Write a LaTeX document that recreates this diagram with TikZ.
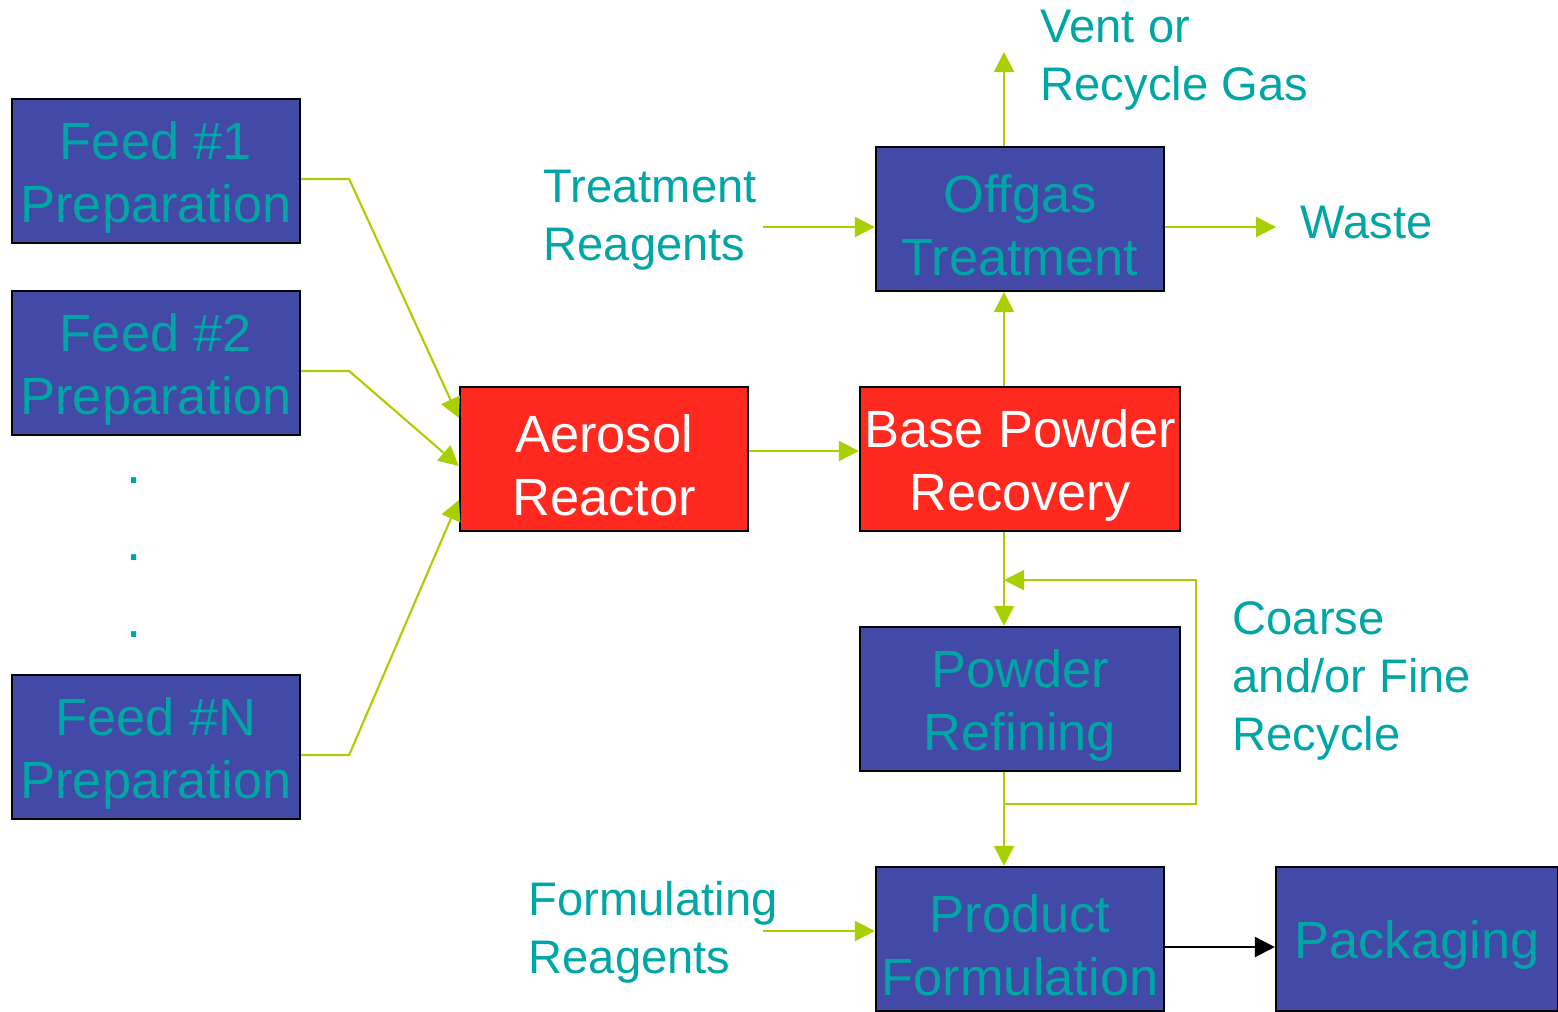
\documentclass[tikz,border=0pt]{standalone}
\usepackage{fontspec}
\setmainfont{Liberation Sans}
\usetikzlibrary{calc,arrows.meta}
\definecolor{boxblue}{RGB}{67,73,167}
\definecolor{boxred}{RGB}{255,41,31}
\definecolor{tealtext}{RGB}{0,166,166}
\definecolor{flowgreen}{RGB}{168,208,0}
\newcommand{\lift}{\rule{0pt}{0.5cm}}

\begin{document}
\begin{tikzpicture}[x=0.01cm, y=-0.01cm,
  box/.style={draw=black, line width=0.6pt, fill=boxblue, text=tealtext, minimum width=2.88cm, minimum height=1.44cm, inner sep=0pt, align=center, font=\fontsize{14.9}{17.9}\selectfont},
  hot/.style={box, fill=boxred, text=white},
  lbl/.style={text=tealtext, anchor=west, inner sep=0pt, align=left, font=\fontsize{13.4}{16.4}\selectfont},
  flow/.style={draw=flowgreen, line width=0.6pt, -{Triangle[length=0.2cm,width=0.2cm]}}]
\useasboundingbox (0,0) rectangle (1558,1011);
% feed boxes
\node[box] (feed1) at (156,171) {\lift Feed \#1\\Preparation};
\node[box] (feed2) at (156,363) {\lift Feed \#2\\Preparation};
\node[box] (feedN) at (156,747) {\lift Feed \#N\\Preparation};
\foreach \y [count=\i] in {479,556,633} {
    \node[text=tealtext, font=\fontsize{15.5}{18}\selectfont, inner sep=0pt, anchor=base] (dot\i) at (134,\y+4) {.};
}
% main line
\node[hot] (reactor) at (604,459) {\lift Aerosol\\Reactor};
\node[hot, minimum width=3.2cm] (recovery) at (1020,459) {\lift Base Powder\\Recovery};
\node[box] (offgas) at (1020,219) {\lift Offgas\\Treatment};
\node[box, minimum width=3.2cm] (refining) at (1020,699) {\lift Powder\\Refining};
\node[box] (formulation) at (1020,939) {\lift Product\\Formulation};
\node[box, minimum width=2.82cm] (packaging) at (1417,939) {\lift Packaging};
% side labels
\node[lbl] (vent) at (1040,60) {Vent or\\Recycle Gas};
\node[lbl] (treat) at (543,220) {Treatment\\Reagents};
\node[lbl] (waste) at (1300,223) {Waste};
\node[lbl] (coarse) at (1232,681) {Coarse\\and/or Fine\\Recycle};
\node[lbl] (formul) at (528,932) {Formulating\\Reagents};
\coordinate (ventend) at (1004,52);
% flows
\draw[flow] ($(feed1.east)+(0,8)$) -- ++(48,0) -- ($(reactor.west)+(0,-41)$);
\draw[flow] ($(feed2.east)+(0,8)$) -- ++(48,0) -- ($(reactor.west)+(0,7)$);
\draw[flow] ($(feedN.east)+(0,8)$) -- ++(48,0) -- ($(reactor.west)+(0,41)$);
\draw[flow] ($(reactor.east)+(0,-8)$) -- ($(recovery.west)+(0,-8)$);
\draw[flow] ($(recovery.north)+(-16,0)$) -- ($(offgas.south)+(-16,0)$);
\draw[flow] ($(offgas.north)+(-16,0)$) -- (ventend);
\draw[flow] ($(offgas.west)+(-112,8)$) -- ($(offgas.west)+(0,8)$);
\draw[flow] ($(offgas.east)+(0,8)$) -- ($(offgas.east -| waste.west)+(-24,8)$);
\draw[flow] ($(recovery.south)+(-16,0)$) -- ($(refining.north)+(-16,0)$);
\draw[flow] ($(refining.south)+(-16,0)$) -- ($(formulation.north)+(-16,0)$);
\draw[flow] ($(refining.south)+(-16,32)$) -- ++(192,0) |- ($(recovery.south)+(-16,48)$);
\draw[flow] ($(formulation.west)+(-112,-8)$) -- ($(formulation.west)+(0,-8)$);
\draw[line width=0.6pt, -{Triangle[length=0.2cm,width=0.2cm]}] ($(formulation.east)+(0,8)$) -- ($(packaging.west)+(0,8)$);
\end{tikzpicture}
\end{document}
